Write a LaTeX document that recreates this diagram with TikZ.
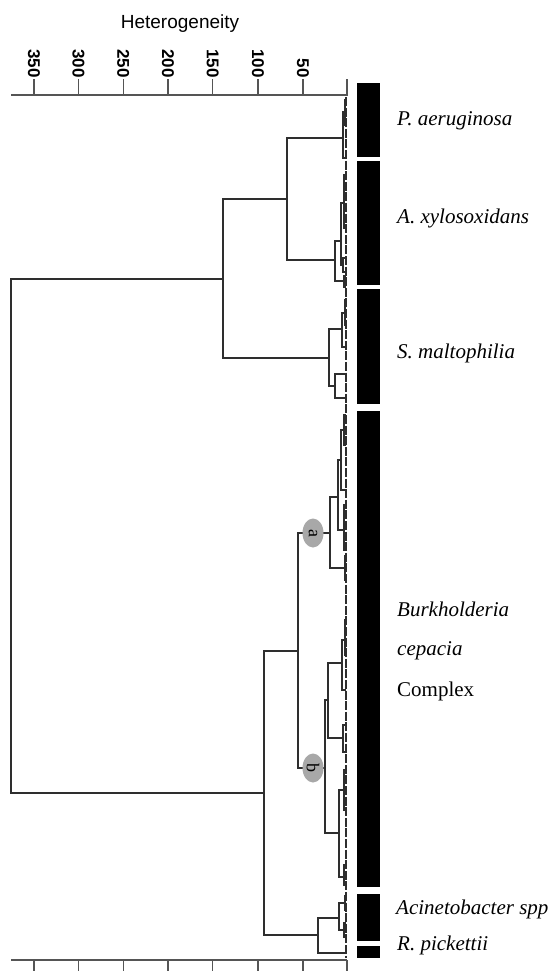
\documentclass[tikz,border=0pt]{standalone}
\usepackage{fontspec}
\setmainfont{Liberation Serif}
\setsansfont{Liberation Sans}
\usetikzlibrary{shapes.geometric}
\definecolor{brc}{HTML}{2E2E2E}
\definecolor{axc}{HTML}{555555}
\definecolor{ovl}{HTML}{A8A8A8}
\newcommand\merge[3]{\draw[br] (#2) -- (#2 -| #1) -- (#3 -| #1) -- (#3);}
\begin{document}
\begin{tikzpicture}[x=1pt,y=-1pt,
  br/.style={draw=brc,line width=1.25pt},
  axl/.style={draw=axc,line width=1.2pt},
  ticklab/.style={font=\sffamily\bfseries\fontsize{17}{20}\selectfont,rotate=-90,anchor=east,inner sep=1pt},
  species/.style={font=\fontsize{21}{24}\selectfont\itshape,anchor=base west,inner sep=0pt},
  upright/.style={font=\fontsize{21}{24}\selectfont,anchor=base west,inner sep=0pt},
  bar/.style={fill=black,draw=none},
  ovalmark/.style={ellipse,fill=ovl,draw=none,minimum width=21pt,minimum height=29pt,inner sep=0pt,
    font=\fontsize{18}{20}\selectfont},
  leafline/.style={draw=brc,line width=1.1pt,dash pattern=on 9pt off 1.6pt}]
\useasboundingbox (0,0) rectangle (554,971);
% ---------- axis ----------
\node[font=\sffamily\fontsize{19}{22}\selectfont,anchor=base] (title) at (180,29) {Heterogeneity};
\coordinate (axL) at (11,95);
\coordinate (axR) at (347,95);
\coordinate (axRt) at (347,79);
\coordinate (bxL) at (11,960);
\coordinate (bxR) at (347,960);
\draw[axl] (axL) -- (axR) -- (axRt);
\draw[axl] (bxL) -- (bxR);
\foreach \v/\xx in {350/34,300/78.5,250/123.2,200/168,150/212.8,100/258,50/303} {
  \coordinate (t\v) at (\xx,95);
  \coordinate (tt\v) at (\xx,79);
  \draw[axl] (t\v) -- (tt\v);
  \node[ticklab] (lab\v) at (tt\v) {\v};
  \coordinate (b\v) at (\xx,960);
  \coordinate (bb\v) at (\xx,971);
  \draw[axl] (b\v) -- (bb\v);
}
\coordinate (bb0) at (347,971);
\draw[axl] (bxR) -- (bb0);
% ---------- leaf line ----------
\coordinate (lt) at (346,97);
\coordinate (lb) at (346,958);
\draw[leafline] (lt) -- (lb);
% ---------- dendrogram coordinates ----------
\coordinate (R) at (11,536);
\coordinate (T) at (223,279);
\coordinate (B) at (264,793);
% top
\coordinate (T1) at (287,199);
\coordinate (S) at (329,358);
\coordinate (Pa) at (343,138);
\coordinate (Ax) at (335,260);
\coordinate (Pa1) at (345,112);
\coordinate (Pa2) at (346,158);
\coordinate (l1) at (346,100);
\coordinate (l2) at (346,125);
\coordinate (Ax1) at (341,241);
\coordinate (Ax2) at (344,281);
\coordinate (Ax11) at (344,203);
\coordinate (Ax12) at (343,265);
\coordinate (l3) at (346,175);
\coordinate (l4) at (346,228);
\coordinate (l5) at (346,258);
\coordinate (l6) at (346,272);
\coordinate (l7) at (346,276);
\coordinate (l8) at (346,287);
\coordinate (S1) at (342,329);
\coordinate (S2) at (335,386);
\coordinate (S11) at (345,313);
\coordinate (l9) at (346,347);
\coordinate (l10) at (346,300);
\coordinate (l11) at (346,325);
\coordinate (l12) at (346,374);
\coordinate (l13) at (346,398);
% bottom
\coordinate (B1) at (298,651);
\coordinate (Ac) at (318,935);
\coordinate (A0) at (330,533);
\coordinate (B0) at (325,768);
\coordinate (A1) at (338,497);
\coordinate (A2) at (345,568);
\coordinate (A11) at (341,460);
\coordinate (A12) at (344,530);
\coordinate (A111) at (344,430);
\coordinate (l14) at (346,490);
\coordinate (l15) at (346,415);
\coordinate (l16) at (346,445);
\coordinate (l17) at (346,505);
\coordinate (l18) at (346,550);
\coordinate (l19) at (346,556);
\coordinate (l20) at (346,580);
\coordinate (Bb1) at (328,700);
\coordinate (Bb2) at (339,833);
\coordinate (Bb11) at (342,663);
\coordinate (Bb12) at (343,738);
\coordinate (Bb111) at (345,640);
\coordinate (l21) at (346,690);
\coordinate (l22) at (346,620);
\coordinate (l23) at (346,655);
\coordinate (l24) at (346,725);
\coordinate (l25) at (346,752);
\coordinate (Bb21) at (344,790);
\coordinate (Bb22) at (344,877);
\coordinate (l26) at (346,770);
\coordinate (l27) at (346,810);
\coordinate (l28) at (346,865);
\coordinate (l29) at (346,885);
\coordinate (Ac1) at (339,918);
\coordinate (Rp) at (346,953);
\coordinate (Ac11) at (345,903);
\coordinate (Ac12) at (344,930);
\coordinate (l30) at (346,896);
\coordinate (l31) at (346,910);
\coordinate (l32) at (346,923);
\coordinate (l33) at (346,937);
% ---------- merges ----------
\merge{R}{T}{B}
\merge{T}{T1}{S}
\merge{T1}{Pa}{Ax}
\merge{Pa}{Pa1}{Pa2}
\merge{Pa1}{l1}{l2}
\merge{Ax}{Ax1}{Ax2}
\merge{Ax1}{Ax11}{Ax12}
\merge{Ax11}{l3}{l4}
\merge{Ax12}{l5}{l6}
\merge{Ax2}{l7}{l8}
\merge{S}{S1}{S2}
\merge{S1}{S11}{l9}
\merge{S11}{l10}{l11}
\merge{S2}{l12}{l13}
\merge{B}{B1}{Ac}
\merge{B1}{A0}{B0}
\merge{A0}{A1}{A2}
\merge{A1}{A11}{A12}
\merge{A11}{A111}{l14}
\merge{A111}{l15}{l16}
\merge{A12}{l17}{l18}
\merge{A2}{l19}{l20}
\merge{B0}{Bb1}{Bb2}
\merge{Bb1}{Bb11}{Bb12}
\merge{Bb11}{Bb111}{l21}
\merge{Bb111}{l22}{l23}
\merge{Bb12}{l24}{l25}
\merge{Bb2}{Bb21}{Bb22}
\merge{Bb21}{l26}{l27}
\merge{Bb22}{l28}{l29}
\merge{Ac}{Ac1}{Rp}
\merge{Ac1}{Ac11}{Ac12}
\merge{Ac11}{l30}{l31}
\merge{Ac12}{l32}{l33}
% ---------- marked nodes ----------
\node[ovalmark] (na) at (313,533) {\rotatebox{-90}{a}};
\node[ovalmark] (nb) at (313,768) {\rotatebox{-90}{b}};
% ---------- bars ----------
\fill[bar] (357,83) rectangle (380,157);
\fill[bar] (357,161) rectangle (380,285);
\fill[bar] (357,289) rectangle (380,404);
\fill[bar] (357,411) rectangle (380,887);
\fill[bar] (357,894) rectangle (380,941);
\fill[bar] (357,946) rectangle (380,958);
% ---------- labels ----------
\node[species] (pa) at (397,125) {P. aeruginosa};
\node[species] (ax) at (397,223) {A. xylosoxidans};
\node[species] (sm) at (397,358) {S. maltophilia};
\node[species] (bu) at (397,616) {Burkholderia};
\node[species] (ce) at (397,655) {cepacia};
\node[upright] (co) at (397,696) {Complex};
\node[species] (ac) at (396,914) {Acinetobacter spp};
\node[species] (rp) at (397,950) {R. pickettii};
\end{tikzpicture}
\end{document}
